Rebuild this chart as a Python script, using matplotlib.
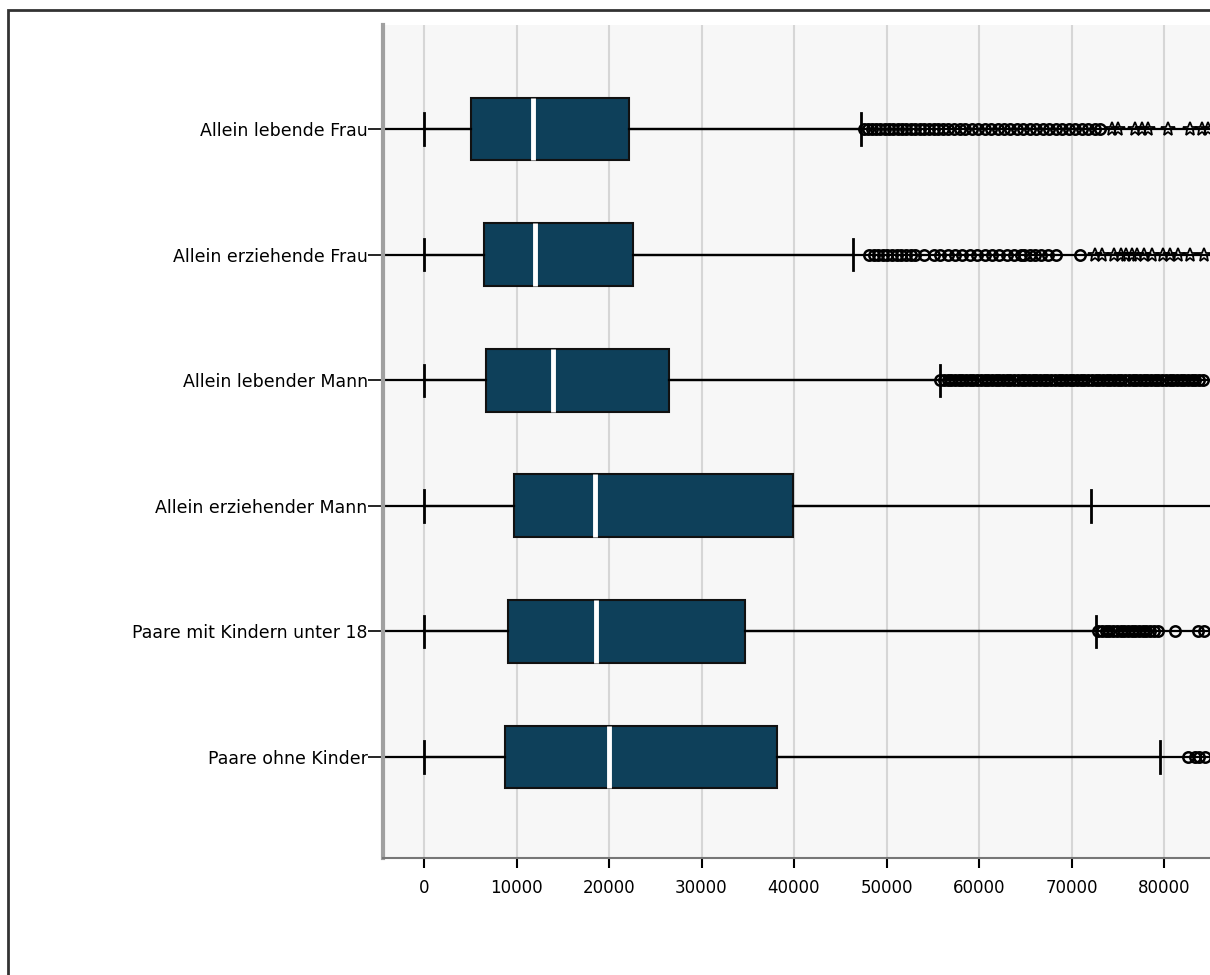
import matplotlib.pyplot as plt
from matplotlib.patches import Rectangle

# Kategorien (von oben nach unten)
gruppen = ['Allein lebende Frau', 'Allein erziehende Frau', 'Allein lebender Mann',
           'Allein erziehender Mann', 'Paare mit Kindern unter 18', 'Paare ohne Kinder']

# Kennwerte der Boxplots
whisker_unten = [0, 0, 0, 0, 0, 0]
q1 = [5080, 6490, 6700, 9760, 9080, 8790]
median = [11820, 12000, 13950, 18490, 18600, 20030]
q3 = [22160, 22600, 26490, 39890, 34700, 38130]
whisker_oben = [47240, 46340, 55780, 72100, 72700, 79570]

# Ausreißer (Kreise) und Extremwerte (Sterne)
ausreisser = [
    [47600, 48000, 48400, 48900, 49300, 49800, 50300, 50700, 51200, 51700, 52100, 52600,
     53100, 53600, 54100, 54600, 55100, 55600, 56100, 56700, 57300, 57900, 58500, 59200,
     59900, 60600, 61300, 62000, 62700, 63400, 64100, 64800, 65500, 66200, 66900, 67600,
     68300, 69000, 69700, 70400, 71100, 71800, 72500, 73100],
    [48100, 48600, 49100, 49600, 50100, 50600, 51100, 51600, 52100, 52600, 53100, 54000,
     55100, 55800, 56600, 57400, 58200, 59000, 59800, 60600, 61400, 62200, 63000, 63800,
     64500, 64900, 65500, 66100, 66700, 67500, 68300, 70900],
    [55800, 56200, 56600, 57000, 57400, 57800, 58200, 58600, 59000, 59400, 59800, 60200,
     60600, 61000, 61400, 61800, 62200, 62600, 63000, 63400, 63800, 64200, 64600, 65000,
     65400, 65800, 66200, 66600, 67000, 67400, 67800, 68200, 68600, 69000, 69400, 69800,
     70200, 70600, 71000, 71400, 71800, 72200, 72600, 73000, 73400, 73800, 74200, 74600,
     75000, 75400, 75800, 76200, 76600, 77000, 77400, 77800, 78200, 78600, 79000, 79400,
     79800, 80200, 80600, 81000, 81400, 81800, 82200, 82600, 83000, 83400, 83800, 84200],
    [],
    [72900, 73300, 73700, 74100, 74500, 74900, 75300, 75700, 76100, 76500, 76900, 77300,
     77700, 78100, 78500, 78900, 79300, 81200, 83700, 84300],
    [82600, 83300, 83800, 84400],
]
sterne = [
    [74330, 75030, 76860, 77590, 78270, 80430, 82810, 84100, 84760],
    [72500, 73300, 74600, 75300, 75900, 76500, 77100, 77800, 78700, 79900, 80600, 81500,
     82800, 84300],
    [], [], [], [],
]

x_ticks = [0, 10000, 20000, 30000, 40000, 50000, 60000, 70000, 80000]

positionen = list(range(1, len(gruppen) + 1))

fig = plt.figure(figsize=(12.1, 9.75), dpi=100)
ax = fig.add_axes([383 / 1210, 1 - 858 / 975, 1 - 383 / 1210, (858 - 25) / 975])
ax.set_facecolor('#f7f7f7')

# Rahmen um die ganze Grafik (rechts/unten abgeschnitten)
fig.patches.append(Rectangle((8 / 1210, -0.1), 1.2, 1 - 10 / 975 + 0.1,
                             transform=fig.transFigure, fill=False,
                             edgecolor='#333333', linewidth=2, zorder=0))

# durchgehende Linie je Gruppe
for p in positionen:
    ax.axhline(p, color='black', linewidth=1.6, zorder=1)

stats = []
for i, g in enumerate(gruppen):
    stats.append({'label': g, 'whislo': whisker_unten[i], 'q1': q1[i], 'med': median[i],
                  'q3': q3[i], 'whishi': whisker_oben[i], 'fliers': ausreisser[i]})

ax.bxp(stats, positions=positionen, orientation='horizontal', widths=0.5,
       capwidths=0.25, patch_artist=True, showfliers=True,
       boxprops=dict(facecolor='#0e405a', edgecolor='#111111', linewidth=1.5),
       medianprops=dict(color='white', linewidth=3.5),
       whiskerprops=dict(color='black', linewidth=1.6),
       capprops=dict(color='black', linewidth=2),
       flierprops=dict(marker='o', markersize=7.5, markerfacecolor='none',
                       markeredgecolor='black', markeredgewidth=1.8),
       zorder=3)

for p, werte in zip(positionen, sterne):
    if werte:
        ax.plot(werte, [p] * len(werte), linestyle='none', marker='*', markersize=10,
                markerfacecolor='none', markeredgecolor='black', markeredgewidth=1.3,
                zorder=4)

ax.set_xlim((383 - 424) / 92.5 * 10000, (1210 - 424) / 92.5 * 10000)
ax.set_ylim(6.804, 0.172)
ax.set_xticks(x_ticks)
ax.set_xticklabels([str(t) for t in x_ticks])
ax.set_yticks(positionen)
ax.set_yticklabels(gruppen)

ax.grid(axis='x', color='#d6d6d6', linewidth=1.5, zorder=0)
ax.set_axisbelow(True)

ax.tick_params(axis='y', direction='out', length=11, width=1.2, pad=0, labelsize=12.5)
ax.tick_params(axis='x', direction='out', length=7, width=1.5, pad=8, labelsize=12)

for s in ['top', 'right']:
    ax.spines[s].set_visible(False)
ax.spines['left'].set_color('#a0a0a0')
ax.spines['left'].set_linewidth(3)
ax.spines['bottom'].set_color('#777777')
ax.spines['bottom'].set_linewidth(1.5)

fig.savefig('out.png', dpi=100)
